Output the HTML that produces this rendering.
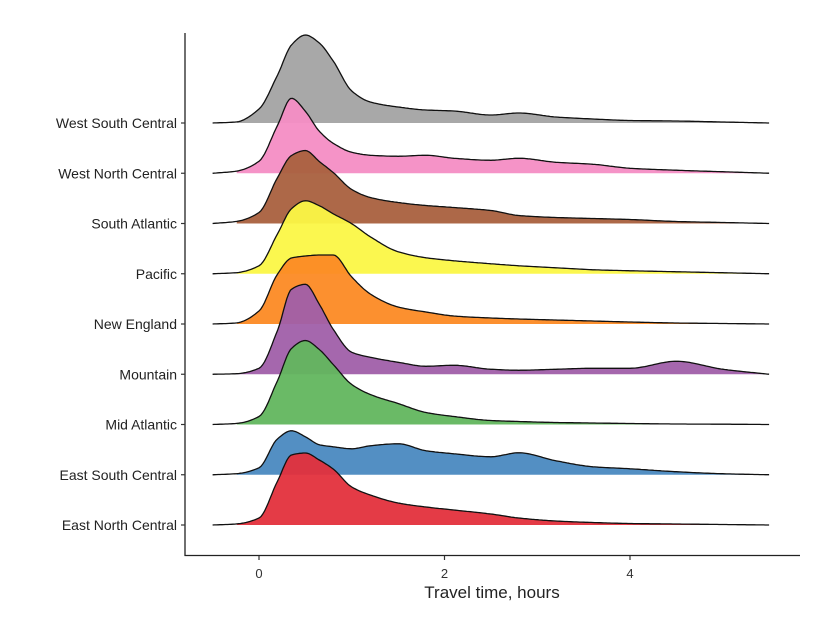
<!DOCTYPE html>
<html><head><meta charset="utf-8">
<style>
body{margin:0;background:#fff;}
svg{display:block;font-family:"Liberation Sans",Arial,sans-serif;}
</style></head>
<body>
<svg id="chart" width="814" height="618" viewBox="0 0 814 618">
<g id="ridges"></g>
<g id="axes"></g>
</svg>
<script>
const hoursGrid = [-0.5,-0.25,0,0.2,0.35,0.5,0.65,0.8,1.0,1.2,1.5,1.8,2.1,2.5,2.8,3.2,3.6,4.0,4.5,5.0,5.5];
const regions = ["West South Central","West North Central","South Atlantic","Pacific","New England","Mountain","Mid Atlantic","East South Central","East North Central"];
const colors = ["#a3a3a3","#f48dc4","#a9603e","#fbf746","#fc8a24","#a05fa9","#62b65e","#4a89c0","#e3303c"];
const dWSC = [0,1,14,48,78,88,80,62,32,21,16,13,12,8,10,6,4,2.5,2,1,0];
const dWNC = [0,2,12,48,75,62,42,30,21,18,17,18,15,13,15,11,9,5,3,1.5,0];
const dSA  = [0,2,11,46,68,73,62,51,34,26,21,18,16,13,8,6,5,4,2,1,0];
const dPAC = [0,1,8,40,65,73,68,60,50,37,22,16,13,10,8,6,4,3,2,1,0];
const dNE  = [0,1,13,50,66,68,69,69,47,30,17,12,8,6,5,4,3,2,1,0.5,0];
const dMTN = [0,0.5,6,44,85,90,70,45,22,17,12,8,9,5,4,5,6,6,13,5,0];
const dMA  = [0,1,8,44,76,84,75,60,40,30,21,12,8,4,3,2,1.5,1,0.5,0.3,0];
const dESC = [0,1,7,36,44,38,30,28,26,29,31,24,21,18,22,14,8,6,3,1,0];
const dENC = [0,1,7,44,70,72,65,56,38,30,22,18,15,11,7,4,2.5,1.5,1,0.5,0];
const densities = [dWSC,dWNC,dSA,dPAC,dNE,dMTN,dMA,dESC,dENC];
const xTicks = [0,2,4];

const NS="http://www.w3.org/2000/svg";
const xScale = h => 259 + h*92.75;
const baseY = i => 123 + i*50.25;

// monotone cubic (Fritsch-Carlson) interpolation, sampled finely
function interp(xs, ys){
  const n=xs.length, dx=[], m=[], t=[];
  for(let i=0;i<n-1;i++){dx.push(xs[i+1]-xs[i]); m.push((ys[i+1]-ys[i])/dx[i]);}
  t[0]=m[0]; t[n-1]=m[n-2];
  for(let i=1;i<n-1;i++){
    if(m[i-1]*m[i]<=0) t[i]=0;
    else { const w1=2*dx[i]+dx[i-1], w2=dx[i]+2*dx[i-1]; t[i]=(w1+w2)/(w1/m[i-1]+w2/m[i]); }
  }
  return x=>{
    let i=0; while(i<n-2 && x>xs[i+1]) i++;
    const h=dx[i], s=(x-xs[i])/h, s2=s*s, s3=s2*s;
    return (2*s3-3*s2+1)*ys[i]+(s3-2*s2+s)*h*t[i]+(-2*s3+3*s2)*ys[i+1]+(s3-s2)*h*t[i+1];
  };
}
const ridges=document.getElementById('ridges');
regions.forEach((name,i)=>{
  const by=baseY(i);
  const f=interp(hoursGrid,densities[i]);
  const pts=[];
  for(let h=-0.5;h<=5.5001;h+=0.02) pts.push([xScale(h),by-Math.max(0,f(h))]);
  const line='M'+pts.map(p=>p[0].toFixed(1)+','+p[1].toFixed(1)).join(' L');
  const fpts=pts.filter(p=>p[0]>=xScale(-0.25));
  const fill=document.createElementNS(NS,'path');
  fill.setAttribute('d','M'+fpts[0][0].toFixed(1)+','+by+' L'+fpts.map(p=>p[0].toFixed(1)+','+p[1].toFixed(1)).join(' L')+` L${xScale(5.5)},${by} Z`);
  fill.setAttribute('fill',colors[i]);
  fill.setAttribute('fill-opacity','0.95');
  
  
  ridges.appendChild(fill);
  const ln=document.createElementNS(NS,'path');
  ln.setAttribute('d',line);
  ln.setAttribute('fill','none');
  ln.setAttribute('stroke','#111');
  ln.setAttribute('stroke-width','1.3');
  ln.setAttribute('stroke-linejoin','round');
  
  
  ridges.appendChild(ln);
});
const axes=document.getElementById('axes');
function add(tag,attrs,text){const e=document.createElementNS(NS,tag);for(const k in attrs)e.setAttribute(k,attrs[k]);if(text!==undefined)e.textContent=text;axes.appendChild(e);return e;}
let e;
e=add('line',{x1:185,y1:33,x2:185,y2:556,stroke:'#222','stroke-width':1.3});


e=add('line',{x1:184.5,y1:555.5,x2:800,y2:555.5,stroke:'#222','stroke-width':1.3});


regions.forEach((name,i)=>{
  const y=baseY(i);
  let t=add('line',{x1:181,y1:y,x2:185,y2:y,stroke:'#333','stroke-width':1.2});
  
  
  t=add('text',{x:177,y:y+5,'text-anchor':'end','font-size':'14',fill:'#222'},name);
  
  
});
xTicks.forEach(v=>{
  const x=xScale(v);
  let t=add('line',{x1:x,y1:556,x2:x,y2:560,stroke:'#333','stroke-width':1.2});
  
  
  t=add('text',{x:x,y:578,'text-anchor':'middle','font-size':'13',fill:'#333'},String(v));
  
  
});
e=add('text',{x:492,y:598,'text-anchor':'middle','font-size':'17',fill:'#222'},'Travel time, hours');


</script>
</body></html>
